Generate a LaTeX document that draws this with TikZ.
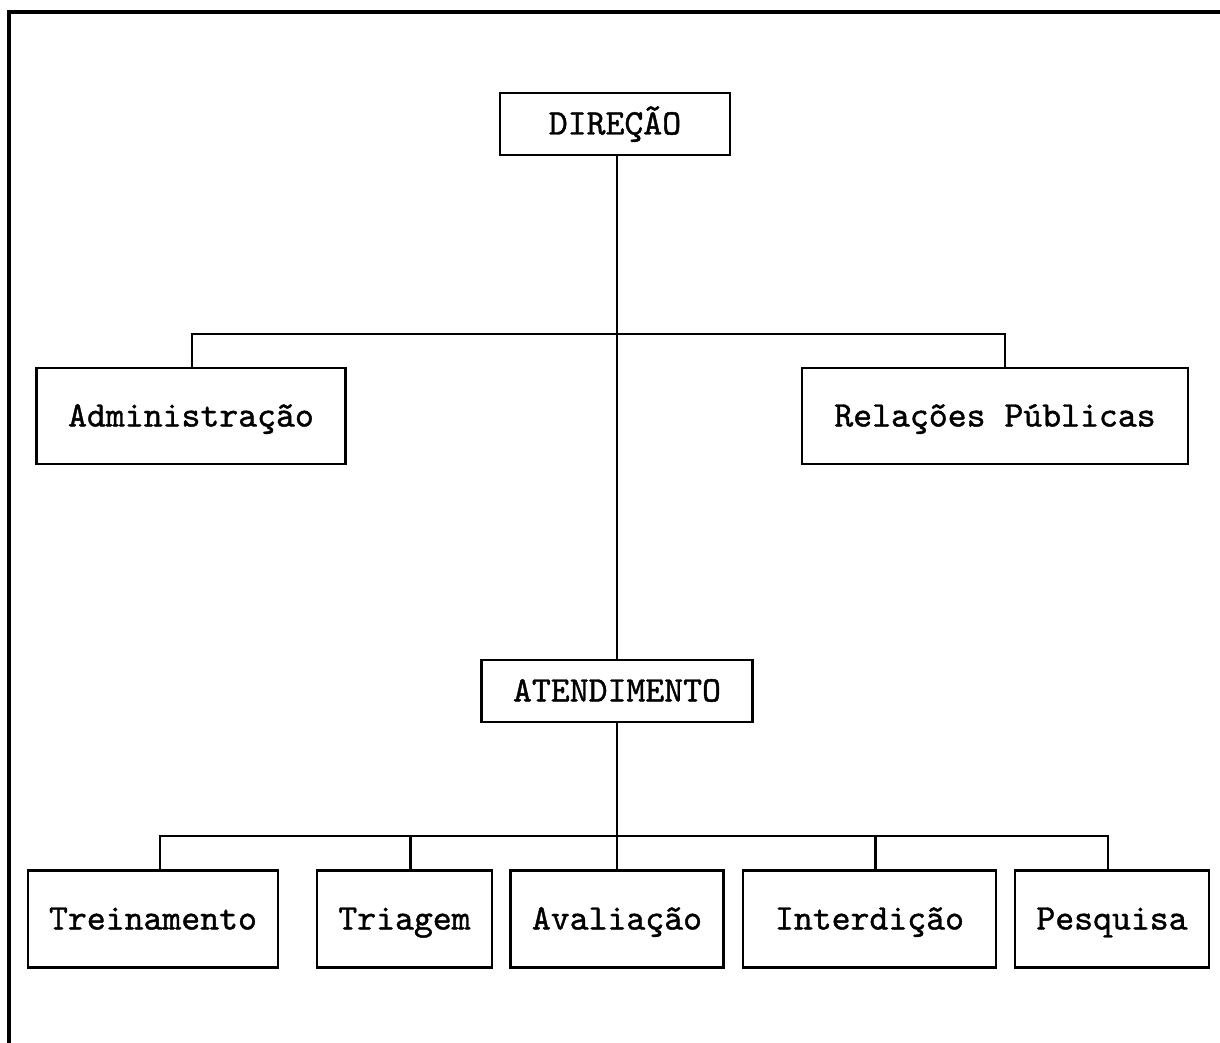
\documentclass[tikz,border=0pt]{standalone}
\usepackage{fontspec}
\newfontfamily\orgfont{lmmono10-regular.otf}[FakeBold=1.1]
\usepackage{tikz}
\tikzset{
    org-box/.style = {draw=black, fill=white, line width=1.4pt, rectangle, inner sep=0pt, text height=12.5pt, text depth=2pt, font=\orgfont\fontsize{18}{20}\selectfont},
    org-line/.style = {draw=black, line width=1.1pt},
}

\begin{document}
\begin{tikzpicture}[x=0.5pt, y=-0.5pt]
\useasboundingbox (0,0) rectangle (1220,1043);
\draw [line width=1.7pt] (9,1043) -- (9,12) -- (1220,12);
\node [org-box, minimum width=115pt, minimum height=31pt] (dir) at (615,124) {DIREÇÃO};
\node [org-box, minimum width=154.5pt, minimum height=48pt] (adm) at (191,416) {Administração};
\node [org-box, minimum width=193pt, minimum height=48pt] (rp) at (995,416) {Relações Públicas};
\node [org-box, minimum width=135.5pt, minimum height=31pt] (atend) at (617,691) {ATENDIMENTO};
\node [org-box, minimum width=125pt, minimum height=48.5pt] (tre) at (153,919) {Treinamento};
\node [org-box, minimum width=87.5pt, minimum height=48.5pt] (tri) at (404.5,919) {Triagem};
\node [org-box, minimum width=106.5pt, minimum height=48.5pt] (ava) at (617,919) {Avaliação};
\node [org-box, minimum width=126.5pt, minimum height=48.5pt] (inter) at (869.5,919) {Interdição};
\node [org-box, minimum width=97pt, minimum height=48.5pt] (pes) at (1112,919) {Pesquisa};
\draw [org-line] ([xshift=1pt]dir.south) -- (atend.north);
\draw [org-line] ([xshift=0.5pt]adm.north) -- ++(0,-33) -| ([xshift=5pt]rp.north);
\draw [org-line] (atend.south) -- (ava.north);
\draw [org-line] ([xshift=3.5pt]tre.north) -- ++(0,-33) -| ([xshift=-2pt]pes.north);
\draw [org-line] ([xshift=3pt]tri.north) -- ++(0,-33);
\draw [org-line] ([xshift=3pt]inter.north) -- ++(0,-33);
\end{tikzpicture}
\end{document}
